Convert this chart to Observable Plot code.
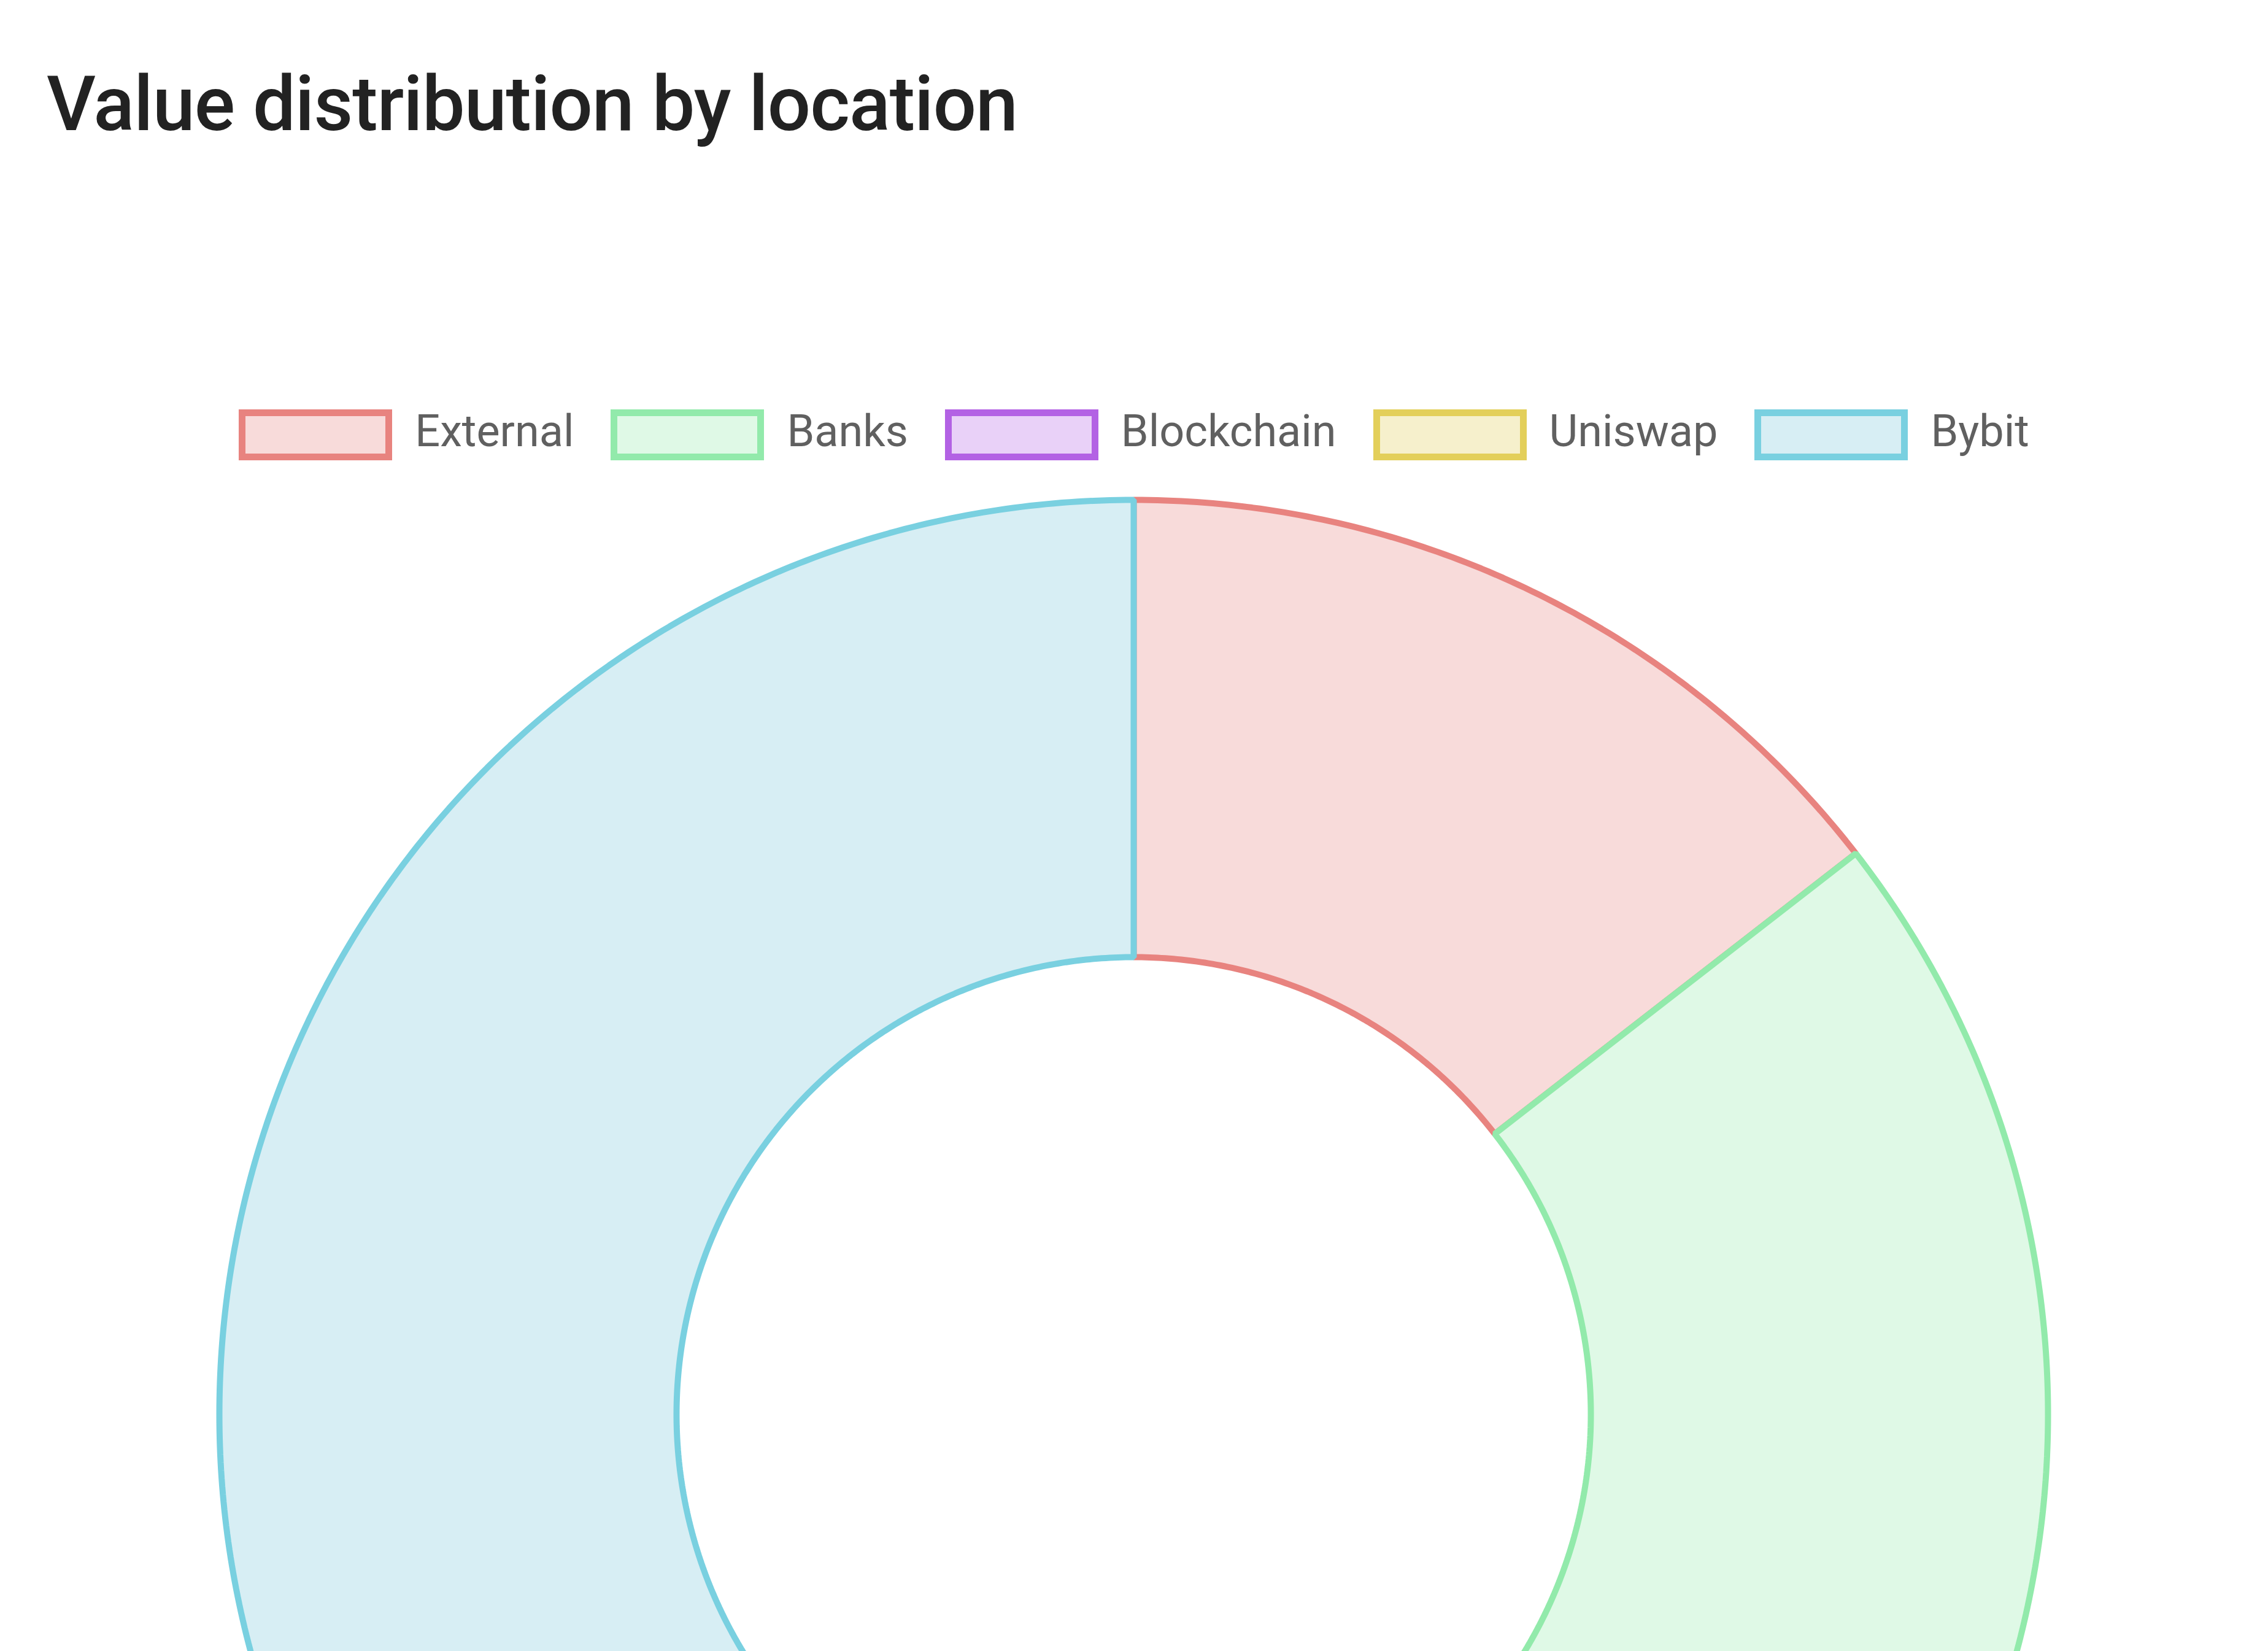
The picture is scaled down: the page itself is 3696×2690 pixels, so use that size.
<!DOCTYPE html>
<html>
<head>
<meta charset="utf-8">
<script src="https://cdn.jsdelivr.net/npm/d3@7"></script>
<script src="https://cdn.jsdelivr.net/npm/@observablehq/plot@0.6"></script>
<style>
  html, body { margin: 0; padding: 0; overflow: hidden; background: #fff; width: 3696px; height: 2690px; }
  #title { position: absolute; left: 76px; top: 108px; font-family: Roboto, "Open Sans", sans-serif; font-weight: 500; font-size: 124px; letter-spacing: -1px; line-height: 1; color: #222; white-space: nowrap; }
  #legend { position: absolute; left: 0; top: 667px; width: 3696px; height: 83px; display: flex; justify-content: center; align-items: center; font-family: Roboto, sans-serif; font-size: 72px; line-height: 1; color: #606060; }
  .item { display: flex; align-items: center; margin: 0 30px; }
  .box { box-sizing: border-box; width: 250px; height: 83px; border-width: 11px; border-style: solid; margin-right: 37px; }
  .lab { position: relative; top: -6px; white-space: nowrap; }
  #chart { position: absolute; left: 0; top: 0; }
</style>
</head>
<body>
<div id="title">Value distribution by location</div>
<div id="legend"></div>
<div id="chart"></div>
<script>
const labels = ["External", "Banks", "Blockchain", "Uniswap", "Bybit"];
const values = [14.49, 35.51, 0, 0, 50];
const borderColors = ["#e8837f", "#92eaab", "#b362e4", "#e3cf5a", "#79d0e0"];
const fillColors = ["#f8dbda", "#dff9e6", "#e9d1f8", "#f6f0cc", "#d7eef4"];
const cutout = 0.5;

// legend
const legend = document.getElementById("legend");
labels.forEach((l, i) => {
  const it = document.createElement("div");
  it.className = "item";
  const b = document.createElement("div");
  b.className = "box";
  b.style.borderColor = borderColors[i];
  b.style.background = fillColors[i];
  const t = document.createElement("span");
  t.className = "lab";
  t.textContent = l;
  it.appendChild(b); it.appendChild(t);
  legend.appendChild(it);
});

// donut slices as spherical polygons, drawn with an azimuthal projection
const RDEG = 60; // outer radius in degrees from the pole
const arcs = d3.pie().sort(null).value(d => d)(values);
const features = [];
arcs.forEach((a, i) => {
  if (values[i] <= 0) return;
  const a0 = a.startAngle * 180 / Math.PI, a1 = a.endAngle * 180 / Math.PI;
  const n = Math.max(2, Math.ceil((a1 - a0) / 0.5));
  const latO = 90 - RDEG, latI = 90 - RDEG * cutout;
  const ring = [];
  for (let k = 0; k <= n; k++) { const th = a0 + (a1 - a0) * k / n; ring.push([180 - th, latO]); }
  for (let k = n; k >= 0; k--) { const th = a0 + (a1 - a0) * k / n; ring.push([180 - th, latI]); }
  ring.push(ring[0]);
  let f = {type: "Feature", properties: {label: labels[i], fill: fillColors[i], stroke: borderColors[i]}, geometry: {type: "Polygon", coordinates: [ring]}};
  if (d3.geoArea(f) > 2 * Math.PI) f.geometry.coordinates = [ring.slice().reverse()];
  features.push(f);
});

const cx = 1847, cy = 2304, R = 1490;
const W = 3696;
const H = cy + R + 20;
const chart = Plot.plot({
  width: W,
  height: H,
  marginLeft: cx - R,
  marginRight: W - (cx + R),
  marginTop: cy - R,
  marginBottom: H - (cy + R),
  style: {background: "transparent"},
  projection: {
    type: "azimuthal-equidistant",
    rotate: [0, -90],
    domain: d3.geoCircle().center([0, 90]).radius(RDEG)()
  },
  marks: [
    Plot.geo(features, {
      fill: d => d.properties.fill,
      stroke: d => d.properties.stroke,
      strokeWidth: 10,
      strokeLinejoin: "miter",
      title: d => d.properties.label
    })
  ]
});
document.getElementById("chart").appendChild(chart);
</script>
</body>
</html>
